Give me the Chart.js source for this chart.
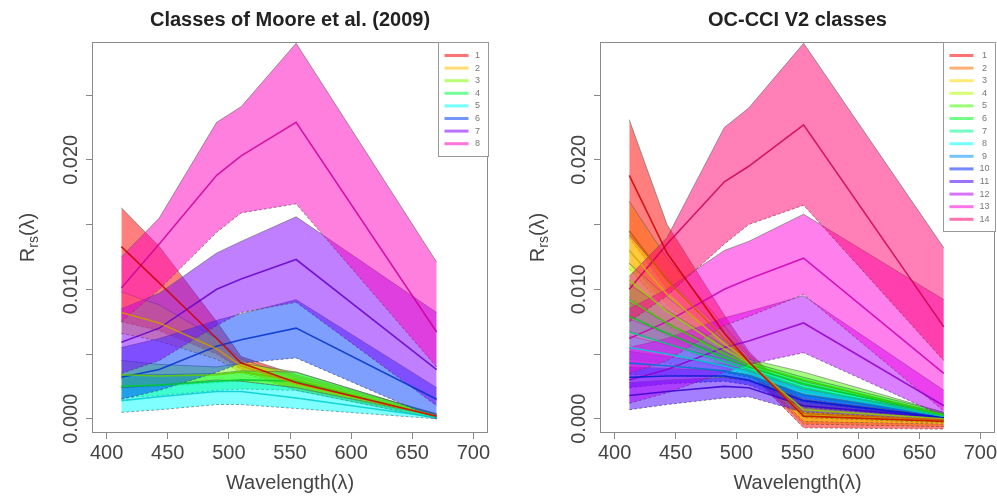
<!DOCTYPE html>
<html>
<head>
<meta charset="utf-8">
<script src="https://cdn.jsdelivr.net/npm/chart.js@4.4.1/dist/chart.umd.min.js"></script>
<style>
  body { margin: 0; background: #fff; }
  #wrap { position: relative; width: 997px; height: 498px; overflow: hidden; }
  #left { position: absolute; left: 0; top: 0; }
  #right { position: absolute; left: 497px; top: 0; }
</style>
</head>
<body>
<div id="wrap">
  <canvas id="left" width="497" height="498"></canvas>
  <canvas id="right" width="500" height="498"></canvas>
</div>
<script>
// Wavelengths (nm) and axis ticks
const wavelengths = [412, 443, 490, 510, 555, 670];
const xTicks = [400, 450, 500, 550, 600, 650, 700];
const yTicks = [0, 0.005, 0.010, 0.015, 0.020, 0.025];
const yLabels = ['0.000', '', '0.010', '', '0.020', ''];

// Moore et al. (2009): 8 classes, rainbow(8)
const mooreClasses = ['1', '2', '3', '4', '5', '6', '7', '8'];
const mooreColors = ['#FF0000', '#FFBF00', '#80FF00', '#00FF40', '#00FFFF', '#0040FF', '#8000FF', '#FF00BF'];
const mooreHigh = [
    [0.0163, 0.0133, 0.0075, 0.0048, 0.0034, 0.0004],
    [0.0098, 0.0088, 0.0062, 0.0046, 0.0032, 0.0003],
    [0.0045, 0.0042, 0.0040, 0.0043, 0.0036, 0.0003],
    [0.0034, 0.0034, 0.0035, 0.0037, 0.0036, 0.0003],
    [0.0024, 0.0026, 0.0030, 0.0029, 0.0024, 0.0002],
    [0.0055, 0.0062, 0.0076, 0.0081, 0.0092, 0.0024],
    [0.0085, 0.0097, 0.0128, 0.0137, 0.0156, 0.0082],
    [0.0125, 0.0155, 0.0229, 0.0241, 0.0290, 0.0121]
];
const mooreMean = [
    [0.0133, 0.0105, 0.0062, 0.0043, 0.0028, 0.0002],
    [0.0082, 0.0074, 0.0054, 0.0041, 0.0027, 0.0002],
    [0.0034, 0.0033, 0.0034, 0.0036, 0.0030, 0.0002],
    [0.0025, 0.0026, 0.0029, 0.0030, 0.0029, 0.0002],
    [0.0014, 0.0017, 0.0021, 0.0021, 0.0016, 0.0001],
    [0.0032, 0.0038, 0.0056, 0.0061, 0.0070, 0.0015],
    [0.0059, 0.0070, 0.0100, 0.0108, 0.0123, 0.0038],
    [0.0101, 0.0135, 0.0188, 0.0203, 0.0229, 0.0067]
];
const mooreLow = [
    [0.0075, 0.0068, 0.0050, 0.0038, 0.0022, 0.0000],
    [0.0066, 0.0060, 0.0046, 0.0036, 0.0022, 0.0001],
    [0.0024, 0.0025, 0.0028, 0.0029, 0.0024, 0.0001],
    [0.0016, 0.0018, 0.0022, 0.0023, 0.0022, 0.0000],
    [0.0005, 0.0007, 0.0011, 0.0011, 0.0008, 0.0000],
    [0.0015, 0.0022, 0.0036, 0.0043, 0.0047, 0.0000],
    [0.0035, 0.0045, 0.0072, 0.0082, 0.0090, 0.0010],
    [0.0075, 0.0100, 0.0144, 0.0159, 0.0166, 0.0040]
];

// OC-CCI V2: 14 classes, rainbow(14)
const cciClasses = ['1', '2', '3', '4', '5', '6', '7', '8', '9', '10', '11', '12', '13', '14'];
const cciColors = ['#FF0000', '#FF6D00', '#FFDB00', '#B6FF00', '#49FF00', '#00FF24', '#00FF92',
                   '#00FFFF', '#0092FF', '#0024FF', '#4900FF', '#B600FF', '#FF00DB', '#FF006D'];
const cciHigh = [
    [0.0231, 0.0150, 0.0080, 0.0052, 0.0010, 0.0002],
    [0.0168, 0.0124, 0.0072, 0.0050, 0.0012, 0.0003],
    [0.0142, 0.0108, 0.0066, 0.0048, 0.0010, 0.0002],
    [0.0120, 0.0094, 0.0060, 0.0047, 0.0014, 0.0003],
    [0.0104, 0.0084, 0.0056, 0.0046, 0.0036, 0.0005],
    [0.0090, 0.0074, 0.0052, 0.0044, 0.0032, 0.0005],
    [0.0077, 0.0066, 0.0049, 0.0042, 0.0029, 0.0004],
    [0.0064, 0.0057, 0.0046, 0.0040, 0.0026, 0.0004],
    [0.0052, 0.0048, 0.0042, 0.0037, 0.0023, 0.0004],
    [0.0040, 0.0039, 0.0037, 0.0034, 0.0019, 0.0003],
    [0.0028, 0.0030, 0.0032, 0.0030, 0.0015, 0.0002],
    [0.0055, 0.0062, 0.0078, 0.0083, 0.0095, 0.0022],
    [0.0085, 0.0100, 0.0130, 0.0137, 0.0158, 0.0092],
    [0.0110, 0.0140, 0.0225, 0.0240, 0.0290, 0.0132]
];
const cciMean = [
    [0.0188, 0.0128, 0.0066, 0.0044, 0.0002, -0.0002],
    [0.0145, 0.0107, 0.0062, 0.0044, 0.0004, -0.0001],
    [0.0130, 0.0096, 0.0058, 0.0044, 0.0003, -0.0001],
    [0.0107, 0.0083, 0.0054, 0.0043, 0.0007, 0.0000],
    [0.0092, 0.0074, 0.0050, 0.0042, 0.0030, 0.0003],
    [0.0079, 0.0066, 0.0047, 0.0040, 0.0027, 0.0003],
    [0.0067, 0.0058, 0.0044, 0.0038, 0.0024, 0.0002],
    [0.0055, 0.0050, 0.0041, 0.0036, 0.0021, 0.0002],
    [0.0043, 0.0041, 0.0037, 0.0033, 0.0018, 0.0002],
    [0.0032, 0.0033, 0.0033, 0.0030, 0.0014, 0.0001],
    [0.0018, 0.0021, 0.0025, 0.0024, 0.0010, 0.0001],
    [0.0030, 0.0038, 0.0055, 0.0060, 0.0074, 0.0010],
    [0.0062, 0.0075, 0.0100, 0.0108, 0.0124, 0.0035],
    [0.0100, 0.0135, 0.0183, 0.0195, 0.0227, 0.0071]
];
const cciLow = [
    [0.0140, 0.0100, 0.0052, 0.0036, -0.0007, -0.0008],
    [0.0120, 0.0088, 0.0052, 0.0038, -0.0004, -0.0006],
    [0.0116, 0.0084, 0.0050, 0.0040, -0.0002, -0.0004],
    [0.0094, 0.0072, 0.0048, 0.0039, 0.0001, -0.0003],
    [0.0080, 0.0064, 0.0044, 0.0038, 0.0024, 0.0001],
    [0.0068, 0.0058, 0.0042, 0.0036, 0.0022, 0.0001],
    [0.0057, 0.0050, 0.0039, 0.0034, 0.0019, 0.0000],
    [0.0046, 0.0043, 0.0036, 0.0032, 0.0016, 0.0000],
    [0.0034, 0.0034, 0.0032, 0.0029, 0.0013, 0.0000],
    [0.0024, 0.0027, 0.0029, 0.0026, 0.0009, 0.0000],
    [0.0007, 0.0011, 0.0016, 0.0017, 0.0005, -0.0001],
    [0.0012, 0.0020, 0.0036, 0.0042, 0.0051, 0.0002],
    [0.0035, 0.0045, 0.0072, 0.0079, 0.0096, 0.0006],
    [0.0075, 0.0095, 0.0135, 0.0150, 0.0165, 0.0045]
];

const FONT = '"Liberation Sans", Arial, sans-serif';
Chart.defaults.font.family = FONT;

function rgba(hex, a) {
    const n = parseInt(hex.slice(1), 16);
    return `rgba(${n >> 16}, ${(n >> 8) & 255}, ${n & 255}, ${a})`;
}

function darker(hex, f, a) {
    const n = parseInt(hex.slice(1), 16);
    return `rgba(${Math.round((n >> 16) * f)}, ${Math.round(((n >> 8) & 255) * f)}, ${Math.round((n & 255) * f)}, ${a})`;
}

function points(values) {
    return wavelengths.map((w, i) => ({ x: w, y: values[i] }));
}

// each class: upper edge (filled down to the lower edge), lower edge, mean line
function buildDatasets(colors, high, mean, low) {
    const ds = [];
    colors.forEach((c, k) => {
        ds.push({
            data: points(high[k]), borderColor: 'rgba(90,90,90,0.55)', borderWidth: 1,
            backgroundColor: rgba(c, 0.5), fill: '+1', order: 100 - k
        });
        ds.push({
            data: points(low[k]), borderColor: 'rgba(60,60,60,0.6)', borderWidth: 1,
            borderDash: [3, 2], fill: false, order: 100 - k
        });
        ds.push({
            data: points(mean[k]), borderColor: darker(c, 0.8, 0.85), borderWidth: 1.6,
            fill: false, order: 0
        });
    });
    return ds;
}

// box, rotated y labels, y title with subscript and the legend
const decorPlugin = {
    id: 'decor',
    afterDraw(chart, args, opts) {
        const ctx = chart.ctx;
        const a = chart.chartArea;
        const yScale = chart.scales.y;
        ctx.save();

        ctx.strokeStyle = '#8a8a8a';
        ctx.lineWidth = 1;
        ctx.strokeRect(Math.round(a.left) + 0.5, Math.round(a.top) + 0.5,
                       Math.round(a.right - a.left) - 1, Math.round(a.bottom - a.top) - 1);

        // y tick labels, read bottom to top
        ctx.fillStyle = '#444';
        ctx.font = '20px ' + FONT;
        ctx.textAlign = 'center';
        ctx.textBaseline = 'middle';
        yTicks.forEach((v, i) => {
            if (!yLabels[i]) return;
            ctx.save();
            ctx.translate(opts.labelX, yScale.getPixelForValue(v));
            ctx.rotate(-Math.PI / 2);
            ctx.fillText(yLabels[i], 0, 0);
            ctx.restore();
        });

        // y title R_rs(λ)
        ctx.save();
        ctx.translate(opts.titleX, (a.top + a.bottom) / 2);
        ctx.rotate(-Math.PI / 2);
        ctx.textAlign = 'left';
        ctx.textBaseline = 'alphabetic';
        const big = '20px ' + FONT, small = '14px ' + FONT;
        ctx.font = big; const wR = ctx.measureText('R').width; const wP = ctx.measureText('(λ)').width;
        ctx.font = small; const wS = ctx.measureText('rs').width;
        let x0 = -(wR + wS + wP) / 2;
        ctx.font = big; ctx.fillText('R', x0, 7);
        ctx.font = small; ctx.fillText('rs', x0 + wR, 11);
        ctx.font = big; ctx.fillText('(λ)', x0 + wR + wS, 7);
        ctx.restore();

        // legend in the top right corner of the plot
        const n = opts.names.length;
        const bw = opts.legendWidth, step = 12.6;
        const bx = Math.round(a.right - bw) + 0.5, by = Math.round(a.top) + 0.5;
        const bh = Math.round(13 + n * step);
        ctx.fillStyle = '#fff';
        ctx.fillRect(bx, by, bw, bh);
        ctx.strokeStyle = '#999';
        ctx.strokeRect(bx, by, bw, bh);
        ctx.font = '9px ' + FONT;
        ctx.textAlign = 'center';
        ctx.textBaseline = 'middle';
        opts.names.forEach((name, i) => {
            const y = by + 13 + i * step;
            ctx.strokeStyle = rgba(opts.colors[i], 0.55);
            ctx.lineWidth = 3;
            ctx.beginPath();
            ctx.moveTo(bx + 6, y);
            ctx.lineTo(bx + 30, y);
            ctx.stroke();
            ctx.fillStyle = '#777';
            ctx.fillText(name, bx + bw - 11, y);
        });
        ctx.restore();
    }
};

function makeChart(id, title, names, colors, high, mean, low, cfg) {
    const ctx = document.getElementById(id).getContext('2d');
    return new Chart(ctx, {
        type: 'line',
        data: { datasets: buildDatasets(colors, high, mean, low) },
        plugins: [decorPlugin],
        options: {
            responsive: false,
            animation: false,
            layout: { padding: { left: 0, right: cfg.padRight, top: 0, bottom: 0 } },
            elements: { point: { radius: 0 }, line: { tension: 0 } },
            plugins: {
                legend: { display: false },
                tooltip: { enabled: false },
                title: {
                    display: true, text: title, fullSize: false, color: '#222',
                    font: { size: 20, weight: 'bold' }, padding: { top: 8, bottom: 10 }
                },
                decor: { names: names, colors: colors, labelX: cfg.labelX, titleX: cfg.titleX, legendWidth: cfg.legendWidth }
            },
            scales: {
                x: {
                    type: 'linear', min: 388, max: 712,
                    afterBuildTicks: s => { s.ticks = xTicks.map(v => ({ value: v })); },
                    afterFit: s => { s.height = 65; s.paddingLeft = 0; s.paddingRight = 0; },
                    ticks: { autoSkip: false, maxRotation: 0, padding: 2, color: '#444', font: { size: 20 },
                             callback: v => String(v) },
                    grid: { drawOnChartArea: false, drawTicks: true, tickLength: 6, color: '#888' },
                    border: { display: false },
                    title: { display: true, text: 'Wavelength(λ)', color: '#444', font: { size: 20 },
                             padding: { top: 0, bottom: 3 } }
                },
                y: {
                    type: 'linear', min: -0.0011, max: 0.0291,
                    afterBuildTicks: s => { s.ticks = yTicks.map(v => ({ value: v })); },
                    afterFit: s => { s.width = cfg.axisWidth; s.paddingTop = 0; s.paddingBottom = 0; },
                    ticks: { display: false },
                    grid: { drawOnChartArea: false, drawTicks: true, tickLength: 6, color: '#888' },
                    border: { display: false }
                }
            }
        }
    });
}

makeChart('left', 'Classes of Moore et al. (2009)', mooreClasses, mooreColors, mooreHigh, mooreMean, mooreLow,
          { axisWidth: 92, padRight: 9, labelX: 71, titleX: 27, legendWidth: 50 });
makeChart('right', 'OC-CCI V2 classes', cciClasses, cciColors, cciHigh, cciMean, cciLow,
          { axisWidth: 103, padRight: 2, labelX: 82, titleX: 40, legendWidth: 52 });
</script>
</body>
</html>
